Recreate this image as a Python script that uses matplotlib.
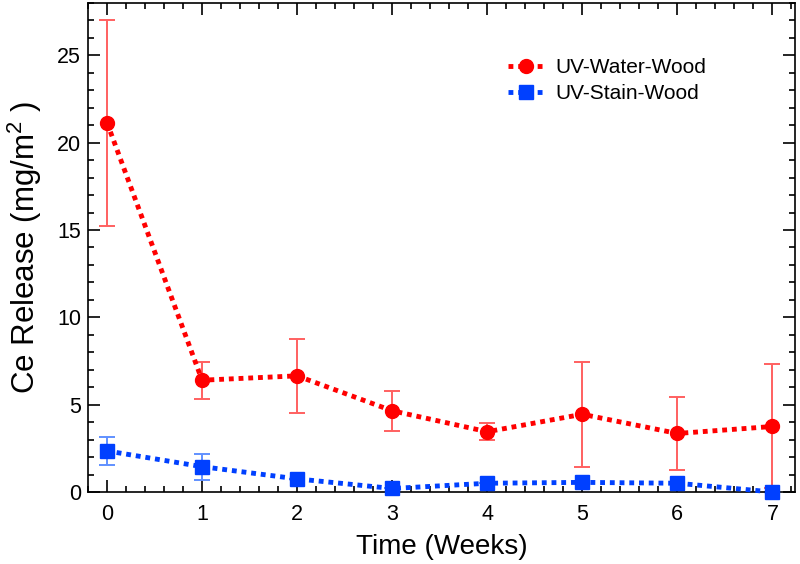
import matplotlib
matplotlib.use("Agg")
import matplotlib.pyplot as plt
from matplotlib.ticker import MultipleLocator

plt.rcParams['font.family'] = ['Liberation Sans', 'DejaVu Sans']
plt.rcParams['mathtext.fontset'] = 'custom'
plt.rcParams['mathtext.rm'] = 'Liberation Sans'

weeks = [0, 1, 2, 3, 4, 5, 6, 7]
water_vals = [21.15, 6.4, 6.65, 4.65, 3.45, 4.45, 3.35, 3.75]
water_err = [5.9, 1.05, 2.1, 1.15, 0.5, 3.0, 2.1, 3.55]
stain_vals = [2.35, 1.45, 0.75, 0.2, 0.5, 0.55, 0.5, 0.0]
stain_err = [0.8, 0.75, 0.0, 0.0, 0.0, 0.0, 0.0, 0.0]

fig = plt.figure(figsize=(8, 5.64), dpi=100)
ax = fig.add_axes([0.11, 0.1277, 0.884, 0.867])

ax.errorbar(weeks, water_vals, yerr=water_err, fmt='none', ecolor='#ff6060',
            elinewidth=1.4, capsize=6, capthick=1.4, zorder=2)
ax.errorbar(weeks, stain_vals, yerr=stain_err, fmt='none', ecolor='#6090ff',
            elinewidth=1.4, capsize=6, capthick=1.4, zorder=2)
ax.plot(weeks, water_vals, linestyle=(0, (1, 1)), color='#ff0000', lw=3.5,
        marker='o', markersize=10, label='UV-Water-Wood', zorder=3, clip_on=False)
ax.plot(weeks, stain_vals, linestyle=(0, (1, 1)), color='#0040ff', lw=3.5,
        marker='s', markersize=9.5, label='UV-Stain-Wood', zorder=3, clip_on=False)

ax.set_xlim(-0.2, 7.24)
ax.set_ylim(0, 28.0)
ax.xaxis.set_major_locator(MultipleLocator(1))
ax.xaxis.set_minor_locator(MultipleLocator(0.2))
ax.yaxis.set_major_locator(MultipleLocator(5))
ax.yaxis.set_minor_locator(MultipleLocator(1))
ax.tick_params(which='both', direction='in', top=True, right=True, width=1.2)
ax.tick_params(which='major', length=8.5, labelsize=15.5)
ax.tick_params(axis='x', which='major', pad=9)
ax.tick_params(axis='y', which='major', pad=5)
ax.tick_params(which='minor', length=4.5)
for s in ax.spines.values():
    s.set_linewidth(1.2)

ax.set_xlabel('Time (Weeks)', fontsize=20)
ax.xaxis.set_label_coords(0.5, -0.086)
ax.set_ylabel('Ce Release (mg/m$^{2}$ )', fontsize=22.5)
ax.yaxis.set_label_coords(-0.062, 0.5)

leg = ax.legend(loc='upper left', bbox_to_anchor=(0.567, 0.926), frameon=False,
                fontsize=15, handlelength=1.8, handletextpad=0.5, labelspacing=0.35)

fig.savefig('out.png', dpi=100)
